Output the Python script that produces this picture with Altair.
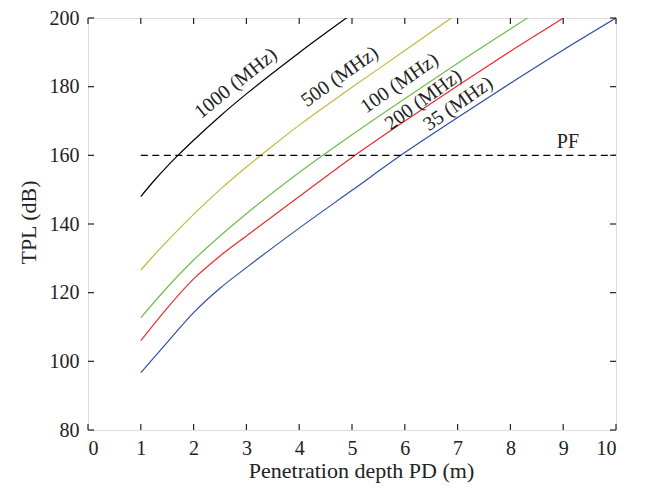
import altair as alt
import pandas as pd

# ---- data ----
x_1000 = [1, 1.25, 1.5, 1.75, 2, 2.5, 3, 3.5, 4, 4.5, 5]
y_1000 = [148, 152.6, 156.8, 160.7, 164.4, 171.4, 177.9, 184, 189.9, 195.6, 201.2]

x_500 = [1, 1.25, 1.5, 2, 2.5, 3, 3.5, 4, 5, 6, 7]
y_500 = [126.6, 130.9, 135.0, 142.8, 150.0, 156.6, 162.8, 168.8, 179.8, 190.5, 201.3]

x_100 = [1, 1.5, 2, 2.5, 3, 4, 5, 6, 7, 8, 8.5]
y_100 = [112.7, 121.5, 129.5, 136.5, 143, 155, 166, 176.5, 186.8, 196.8, 201.8]

x_200 = [1, 1.5, 2, 2.5, 3, 4, 5, 6, 7, 8, 9, 9.2]
y_200 = [106, 115.5, 124, 130.7, 136.5, 148, 159.4, 170, 180.3, 190.3, 200, 202]

x_35 = [1, 1.5, 2, 2.5, 3, 4, 5, 6, 7, 8, 9, 10]
y_35 = [96.7, 105.5, 114.2, 121.3, 127.3, 138.8, 149.8, 160.8, 171, 181, 190.7, 200]

series_names = ["1000", "500", "100", "200", "35"]
series_colors = ["#000000", "#c4b83a", "#6cbf4a", "#ee2a2a", "#2d4fa6"]

pf_x = [1, 10]
pf_y = 160

label_text = ["1000 (MHz)", "500 (MHz)", "100 (MHz)", "200 (MHz)", "35 (MHz)", "PF"]
label_x = [2.80, 4.77, 5.90, 6.35, 7.01, 9.09]
label_y = [181.0, 182.9, 181.0, 176.2, 175.0, 164.0]
label_angle = [321, 324.5, 325, 324, 325, 0]

x_ticks = [0, 1, 2, 3, 4, 5, 6, 7, 8, 9, 10]
y_ticks = [80, 100, 120, 140, 160, 180, 200]

W, H = 528, 412
FONT = "Liberation Serif"
FS = 20
TFS = 22

rows = []
for name, xs, ys in zip(series_names,
                        [x_1000, x_500, x_100, x_200, x_35],
                        [y_1000, y_500, y_100, y_200, y_35]):
    for a, b in zip(xs, ys):
        rows.append({"series": name, "pd": a, "tpl": b})
df = pd.DataFrame(rows)

xscale = alt.Scale(domain=[0, 10], nice=False, zero=False)
yscale = alt.Scale(domain=[80, 200], nice=False, zero=False)

lines = alt.Chart(df).mark_line(strokeWidth=1.2, clip=True, interpolate="monotone").encode(
    x=alt.X("pd:Q", scale=xscale,
            axis=alt.Axis(title="Penetration depth PD (m)", values=x_ticks, ticks=False,
                          domain=False, grid=False, labelPadding=8,
                          labelFont=FONT, labelFontSize=FS, labelColor="#222",
                          titleFont=FONT, titleFontSize=TFS, titleFontWeight="normal",
                          titleColor="#222", titleX=273, titleY=40,
                          titleBaseline="middle", titleAlign="center")),
    y=alt.Y("tpl:Q", scale=yscale,
            axis=alt.Axis(title="TPL (dB)", values=y_ticks, ticks=False,
                          domain=False, grid=False, labelPadding=9,
                          labelFont=FONT, labelFontSize=FS, labelColor="#222",
                          titleFont=FONT, titleFontSize=TFS, titleFontWeight="normal",
                          titleColor="#222", titleX=-60, titleY=204, titleAngle=270,
                          titleBaseline="middle", titleAlign="center")),
    color=alt.Color("series:N", scale=alt.Scale(domain=series_names, range=series_colors),
                    legend=None),
    order=alt.Order("pd:Q"),
)

pf = alt.Chart(pd.DataFrame({"x": [pf_x[0]], "x2": [pf_x[1]], "y": [pf_y]})).mark_rule(
    color="black", strokeWidth=1.3, strokeDash=[7, 4.5]
).encode(x="x:Q", x2="x2:Q", y="y:Q")

labels = alt.Chart(pd.DataFrame({"t": label_text, "x": label_x, "y": label_y,
                                 "a": label_angle})).mark_text(
    font=FONT, fontSize=FS, color="#222", align="center", baseline="middle"
).encode(x="x:Q", y="y:Q", text="t:N", angle=alt.Angle("a:Q", scale=None))

xt = pd.DataFrame({"v": x_ticks})
yt = pd.DataFrame({"v": y_ticks})
tick_style = dict(color="#222", strokeWidth=1.2)
t_bottom = alt.Chart(xt).mark_rule(**tick_style).encode(
    x="v:Q", y=alt.value(H), y2=alt.value(H - 6))
t_top = alt.Chart(xt).mark_rule(**tick_style).encode(
    x="v:Q", y=alt.value(0), y2=alt.value(6))
t_left = alt.Chart(yt).mark_rule(**tick_style).encode(
    y="v:Q", x=alt.value(0), x2=alt.value(6))
t_right = alt.Chart(yt).mark_rule(**tick_style).encode(
    y="v:Q", x=alt.value(W), x2=alt.value(W - 6))

chart = alt.layer(lines, pf, labels, t_bottom, t_top, t_left, t_right).properties(
    width=W, height=H,
    autosize=alt.AutoSizeParams(type="none"),
    padding={"left": 80, "top": 10, "right": 25, "bottom": 54},
).configure_view(stroke="#222", strokeWidth=1.3).configure(background="white")

chart.save("out.html", embed_options={"renderer": "svg", "actions": False})
